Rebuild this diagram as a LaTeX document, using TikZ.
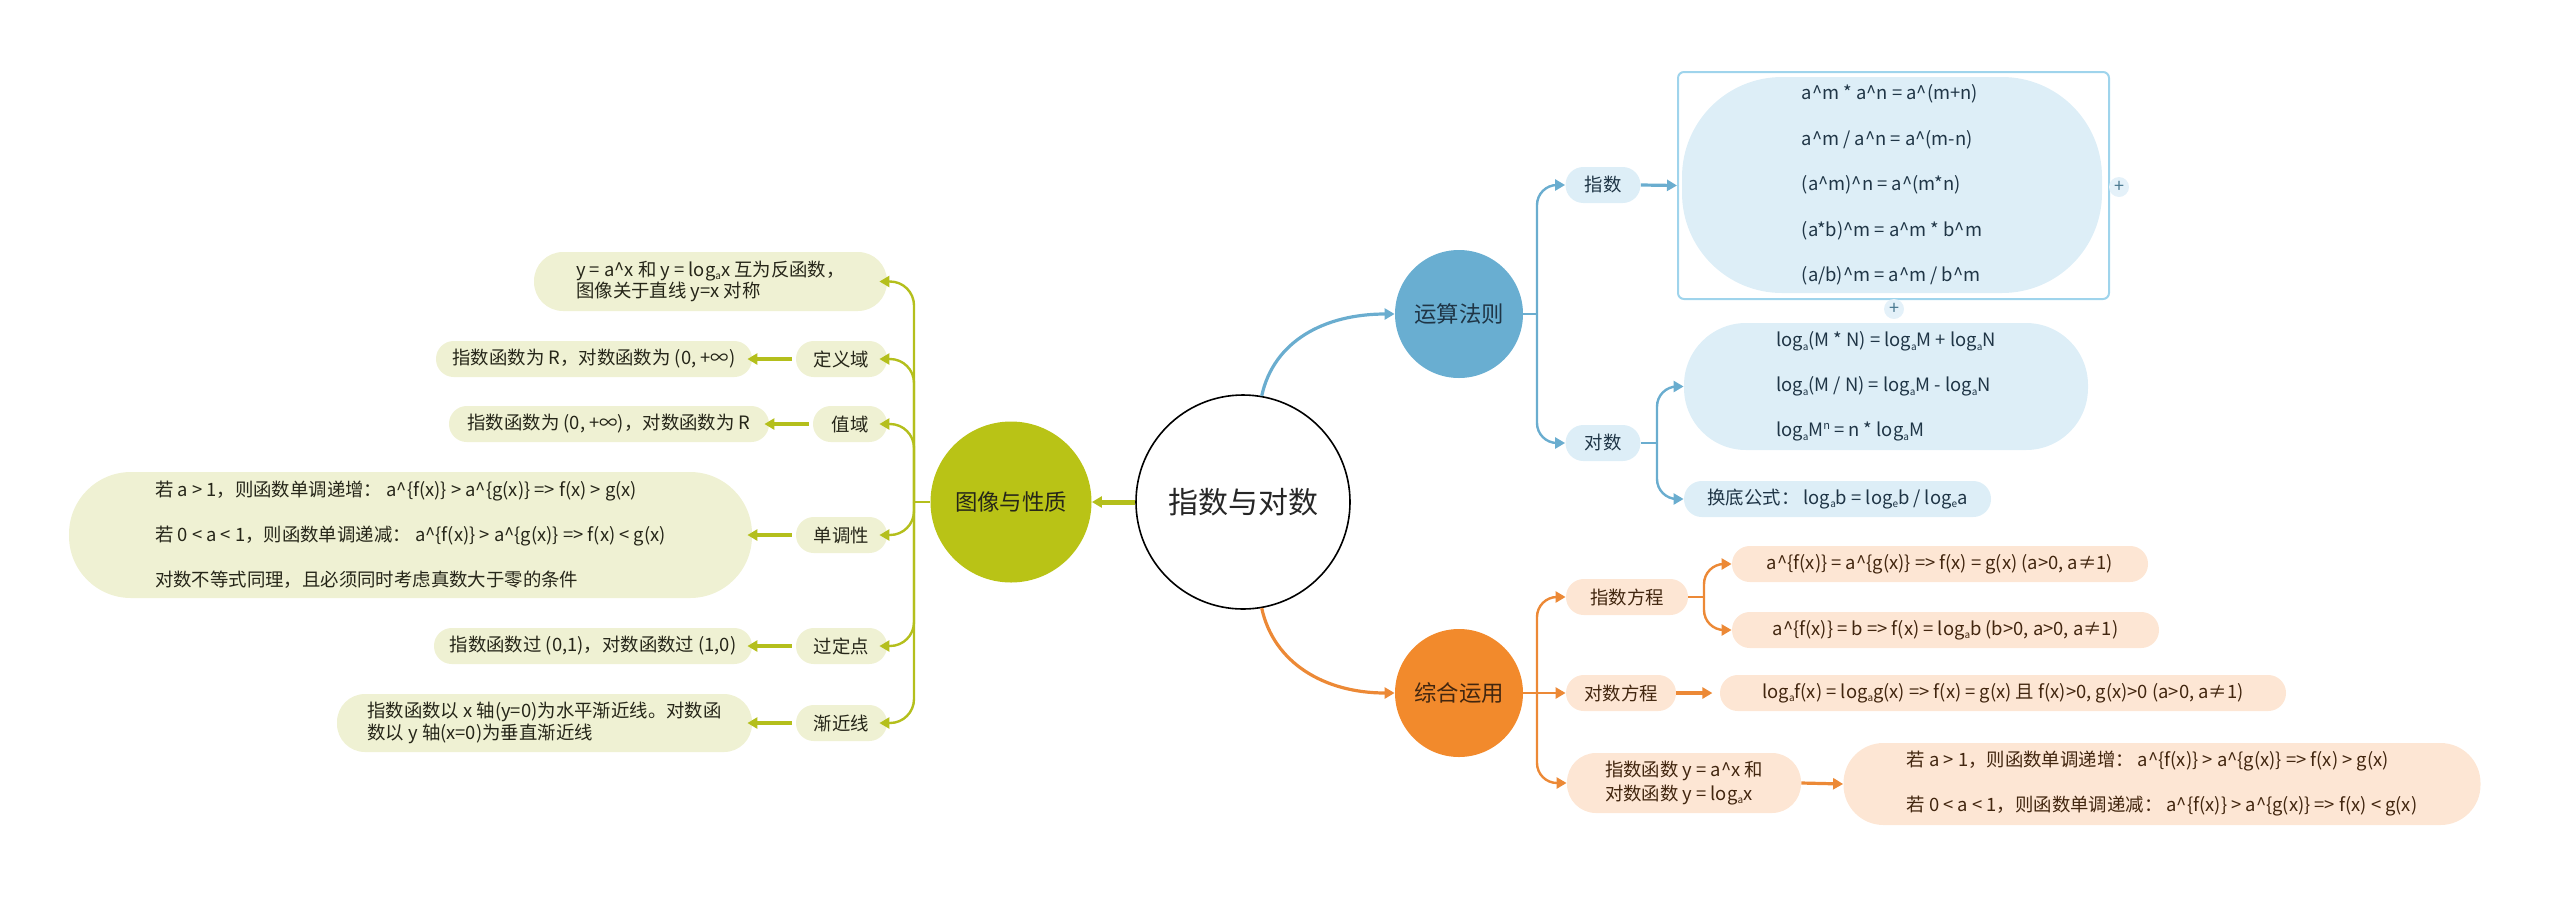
\documentclass[tikz,border=0pt]{standalone}
\usepackage{fontspec}
\setmainfont{Noto Sans CJK SC}
\usetikzlibrary{arrows.meta}
\definecolor{bmain}{HTML}{69AED1}
\definecolor{bline}{HTML}{6AADCF}
\definecolor{blight}{HTML}{DDEEF7}
\definecolor{bframe}{HTML}{9FD4EC}
\definecolor{btext}{HTML}{1F3546}
\definecolor{gmain}{HTML}{B9C316}
\definecolor{gline}{HTML}{B4BF1C}
\definecolor{glight}{HTML}{EFF1D3}
\definecolor{gtext}{HTML}{262619}
\definecolor{omain}{HTML}{F28A2C}
\definecolor{oline}{HTML}{EC8936}
\definecolor{olight}{HTML}{FDE6D4}
\definecolor{otext}{HTML}{42260F}
\newcommand\lga[1]{log\raisebox{-0.35ex}{\fontsize{5}{5}\selectfont #1}}
\newcommand\supn[1]{\raisebox{0.75ex}{\fontsize{5.5}{5.5}\selectfont #1}}
\newcommand\crt{\textasciicircum}
\tikzset{
  bx/.style={inner sep=0pt, anchor=center, align=left},
  txt/.style={font=\fontsize{9.2}{11}\selectfont},
  bsm/.style={bx, txt, fill=blight, text=btext, rounded corners=8.9pt, minimum height=18pt},
  gsm/.style={bx, txt, fill=glight, text=gtext, rounded corners=8.9pt, minimum height=18pt},
  osm/.style={bx, txt, fill=olight, text=otext, rounded corners=8.9pt, minimum height=18pt},
  topic/.style={circle, inner sep=0pt, font=\fontsize{11.2}{13}\selectfont},
  arr/.style={-{Triangle[length=5pt,width=5.5pt]}},
  bl/.style={draw=bline, line width=1.2pt},
  gl/.style={draw=gline, line width=1.2pt},
  ol/.style={draw=oline, line width=1.2pt},
  plusmark/.style={circle, inner sep=0pt, minimum size=10pt, fill=blight!80, text=bline!70!black, font=\fontsize{9}{9}\selectfont},
}
\begin{document}
\begin{tikzpicture}[x=0.5pt,y=-0.5pt]
\useasboundingbox (0,0) rectangle (2560,901);
% central
\node[circle, draw=black, line width=0.8pt, minimum size=107pt, inner sep=0pt, font=\fontsize{15}{17}\selectfont, text=black!85] (c) at (1243,502) {指数与对数};
% topics
\node[topic, fill=bmain, text=btext, minimum size=64pt] (ysf) at (1459,314) {运算法则};
\node[topic, fill=omain, text=otext, minimum size=64pt] (zh) at (1459,693) {综合运用};
\node[topic, fill=gmain, text=gtext, minimum size=80.5pt] (tx) at (1011,502) {图像与性质};

% ---- blue branch
\node[bsm, minimum width=37.5pt] (zs) at (1603,185) {指数};
\node[bx, draw=bframe, line width=1pt, rounded corners=3pt, minimum width=215.5pt, minimum height=113.5pt] (zsframe) at (1893.5,185.5) {};
\node[bx, fill=blight, text=btext, rounded corners=50pt, minimum width=210pt, minimum height=108pt, font=\fontsize{9.2}{22.7}\selectfont] (zsf) at (1892,185)
 {a\crt m * a\crt n = a\crt(m+n)\\
  a\crt m / a\crt n = a\crt(m-n)\\
  (a\crt m)\crt n = a\crt(m*n)\\
  (a*b)\crt m = a\crt m * b\crt m\\
  (a/b)\crt m = a\crt m / b\crt m};
\node[plusmark] (p1) at (2119,187) {+};
\node[plusmark] (p2) at (1894,309) {+};
\node[bsm, minimum width=37.5pt] (ds) at (1603,443) {对数};
\node[bx, fill=blight, text=btext, rounded corners=31pt, minimum width=202pt, minimum height=63.5pt, font=\fontsize{9.2}{22.5}\selectfont] (dsf) at (1886,386.5)
 {\lga{a}(M * N) = \lga{a}M + \lga{a}N\\
  \lga{a}(M / N) = \lga{a}M - \lga{a}N\\
  \lga{a}M\supn{n} = n * \lga{a}M};
\node[bsm, minimum width=153.5pt] (hd) at (1837.5,499) {换底公式： \lga{a}b = \lga{e}b / \lga{e}a};

\coordinate (jb) at (1537,314);
\draw[bl] (ysf.east) -- (jb);
\draw[bl, arr, rounded corners=10pt] (jb) |- (zs.west);
\draw[bl, arr, rounded corners=10pt] (jb) |- (ds.west);
\draw[bl, arr, line width=1.6pt] (zs.east) -- (zsframe.west);
\coordinate (jd) at (1657,443);
\draw[bl] (ds.east) -- (jd);
\draw[bl, arr, rounded corners=10pt] (jd) |- (dsf.west);
\draw[bl, arr, rounded corners=10pt] (jd) |- (hd.west);

% ---- orange branch
\node[osm, minimum width=61pt] (zsfc) at (1627,597) {指数方程};
\node[osm, minimum width=208pt] (e1) at (1940,564) {a\crt\{f(x)\} = a\crt\{g(x)\} => f(x) = g(x) (a>0, a≠1)};
\node[osm, minimum width=213.5pt] (e2) at (1945.5,630) {a\crt\{f(x)\} = b => f(x) = \lga{a}b (b>0, a>0, a≠1)};
\node[osm, minimum width=55pt] (dsfc) at (1621,693) {对数方程};
\node[osm, minimum width=283pt] (e3) at (2003,693) {\lga{a}f(x) = \lga{a}g(x) => f(x) = g(x) 且 f(x)>0, g(x)>0 (a>0, a≠1)};
\node[osm, minimum width=117pt, minimum height=30pt, rounded corners=14.5pt, font=\fontsize{9.2}{12}\selectfont] (zshs) at (1684,783)
 {指数函数 y = a\crt x 和\\对数函数 y = \lga{a}x};
\node[osm, minimum width=318.5pt, minimum height=41pt, rounded corners=20pt, font=\fontsize{9.2}{22.5}\selectfont] (e4) at (2162,784)
 {若 a > 1，则函数单调递增： a\crt\{f(x)\} > a\crt\{g(x)\} => f(x) > g(x)\\
  若 0 < a < 1，则函数单调递减： a\crt\{f(x)\} > a\crt\{g(x)\} => f(x) < g(x)};

\coordinate (jo) at (1537,693);
\draw[ol] (zh.east) -- (jo);
\draw[ol, arr, rounded corners=10pt] (jo) |- (zsfc.west);
\draw[ol, arr] (jo) -- (dsfc.west);
\draw[ol, arr, rounded corners=10pt] (jo) |- (zshs.west);
\coordinate (je) at (1704,597);
\draw[ol] (zsfc.east) -- (je);
\draw[ol, arr, rounded corners=10pt] (je) |- (e1.west);
\draw[ol, arr, rounded corners=10pt] (je) |- (e2.west);
\draw[ol, arr, line width=1.6pt] (dsfc.east) -- ++(36,0);
\draw[ol, arr, line width=1.6pt] (zshs.east) -- (e4.west);

% ---- green branch
\node[gsm, minimum width=176.5pt, minimum height=29.5pt, rounded corners=14.5pt, font=\fontsize{9.2}{10.8}\selectfont] (g0) at (710.5,281.5)
 {y = a\crt x 和 y = \lga{a}x 互为反函数，\\图像关于直线 y=x 对称};
\node[gsm, minimum width=45.5pt] (dy) at (841.5,359) {定义域};
\node[gsm, minimum width=158pt] (g1) at (594,359) {指数函数为 R，对数函数为 (0, +∞)};
\node[gsm, minimum width=37pt] (zy) at (850,424) {值域};
\node[gsm, minimum width=160pt] (g2) at (609,424) {指数函数为 (0, +∞)，对数函数为 R};
\node[gsm, minimum width=45.5pt] (ddx) at (841.5,535) {单调性};
\node[gsm, minimum width=341.5pt, minimum height=63pt, rounded corners=31pt, font=\fontsize{9.2}{22.5}\selectfont] (g3) at (410.5,535)
 {若 a > 1，则函数单调递增： a\crt\{f(x)\} > a\crt\{g(x)\} => f(x) > g(x)\\
  若 0 < a < 1，则函数单调递减： a\crt\{f(x)\} > a\crt\{g(x)\} => f(x) < g(x)\\
  对数不等式同理，且必须同时考虑真数大于零的条件};
\node[gsm, minimum width=45.5pt] (gdd) at (841.5,646) {过定点};
\node[gsm, minimum width=159pt] (g4) at (593,646) {指数函数过 (0,1)，对数函数过 (1,0)};
\node[gsm, minimum width=45.5pt] (jjx) at (841.5,723) {渐近线};
\node[gsm, minimum width=207.5pt, minimum height=29pt, rounded corners=14pt, font=\fontsize{9.2}{11}\selectfont] (g5) at (544.5,723)
 {指数函数以 x 轴(y=0)为水平渐近线。对数函\\数以 y 轴(x=0)为垂直渐近线};

\draw[gl, arr, line width=2.5pt] (c.west) -- (tx.east);
\coordinate (jg) at (914,502);
\draw[gl] (tx.west) -- (jg);
\foreach \n in {g0,dy,zy,ddx,gdd,jjx}
  \draw[gl, arr, rounded corners=12pt] (jg) |- ([xshift=-4pt]\n.east);
\foreach \a/\b in {dy/g1,zy/g2,ddx/g3,gdd/g4,jjx/g5}
  \draw[gl, arr, line width=1.6pt] ([xshift=-2pt]\a.west) -- ([xshift=-2.5pt]\b.east);

% center to topics
\draw[bl, arr, line width=1.6pt] (c.80) .. controls +(12,-55) and +(-70,0) .. (ysf.west);
\draw[ol, arr, line width=1.6pt] (c.-80) .. controls +(12,55) and +(-70,0) .. (zh.west);
\end{tikzpicture}
\end{document}
